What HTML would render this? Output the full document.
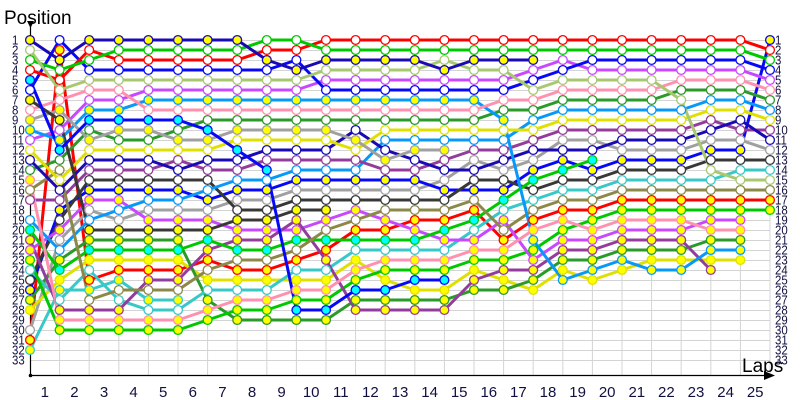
<!DOCTYPE html>
<html><head><meta charset="utf-8"><style>
html,body{margin:0;padding:0;background:#fff;}
svg{display:block;}
text{font-family:"Liberation Sans",sans-serif;}
</style></head><body>
<svg width="800" height="400" viewBox="0 0 800 400" xmlns="http://www.w3.org/2000/svg" xmlns:xlink="http://www.w3.org/1999/xlink">
<rect width="800" height="400" fill="#fff"/>
<defs>
<marker id="m1" markerUnits="userSpaceOnUse" markerWidth="12" markerHeight="12" refX="6" refY="6" viewBox="0 0 12 12"><circle cx="6" cy="6" r="4.4" fill="#ffff00" stroke="#1a0ab4" stroke-width="1.3"/></marker>
<marker id="m2" markerUnits="userSpaceOnUse" markerWidth="12" markerHeight="12" refX="6" refY="6" viewBox="0 0 12 12"><circle cx="6" cy="6" r="4.4" fill="#fff" stroke="#a8c870" stroke-width="1.3"/></marker>
<marker id="m3" markerUnits="userSpaceOnUse" markerWidth="12" markerHeight="12" refX="6" refY="6" viewBox="0 0 12 12"><circle cx="6" cy="6" r="4.4" fill="#fff" stroke="#00c800" stroke-width="1.3"/></marker>
<marker id="m4" markerUnits="userSpaceOnUse" markerWidth="12" markerHeight="12" refX="6" refY="6" viewBox="0 0 12 12"><circle cx="6" cy="6" r="4.4" fill="#fff" stroke="#ff0000" stroke-width="1.3"/></marker>
<marker id="m5" markerUnits="userSpaceOnUse" markerWidth="12" markerHeight="12" refX="6" refY="6" viewBox="0 0 12 12"><circle cx="6" cy="6" r="4.4" fill="#00ffff" stroke="#0808f8" stroke-width="1.3"/></marker>
<marker id="m6" markerUnits="userSpaceOnUse" markerWidth="12" markerHeight="12" refX="6" refY="6" viewBox="0 0 12 12"><circle cx="6" cy="6" r="4.4" fill="#fff" stroke="#0808f8" stroke-width="1.3"/></marker>
<marker id="m7" markerUnits="userSpaceOnUse" markerWidth="12" markerHeight="12" refX="6" refY="6" viewBox="0 0 12 12"><circle cx="6" cy="6" r="4.4" fill="#ffff00" stroke="#383838" stroke-width="1.3"/></marker>
<marker id="m8" markerUnits="userSpaceOnUse" markerWidth="12" markerHeight="12" refX="6" refY="6" viewBox="0 0 12 12"><circle cx="6" cy="6" r="4.4" fill="#fff" stroke="#ff90b0" stroke-width="1.3"/></marker>
<marker id="m9" markerUnits="userSpaceOnUse" markerWidth="12" markerHeight="12" refX="6" refY="6" viewBox="0 0 12 12"><circle cx="6" cy="6" r="4.4" fill="#ffff00" stroke="#a0a0a0" stroke-width="1.3"/></marker>
<marker id="m10" markerUnits="userSpaceOnUse" markerWidth="12" markerHeight="12" refX="6" refY="6" viewBox="0 0 12 12"><circle cx="6" cy="6" r="4.4" fill="#ffff00" stroke="#0898f8" stroke-width="1.3"/></marker>
<marker id="m11" markerUnits="userSpaceOnUse" markerWidth="12" markerHeight="12" refX="6" refY="6" viewBox="0 0 12 12"><circle cx="6" cy="6" r="4.4" fill="#fff" stroke="#c848ff" stroke-width="1.3"/></marker>
<marker id="m12" markerUnits="userSpaceOnUse" markerWidth="12" markerHeight="12" refX="6" refY="6" viewBox="0 0 12 12"><circle cx="6" cy="6" r="4.4" fill="#fff" stroke="#e0e000" stroke-width="1.3"/></marker>
<marker id="m13" markerUnits="userSpaceOnUse" markerWidth="12" markerHeight="12" refX="6" refY="6" viewBox="0 0 12 12"><circle cx="6" cy="6" r="4.4" fill="#fff" stroke="#1a0ab4" stroke-width="1.3"/></marker>
<marker id="m14" markerUnits="userSpaceOnUse" markerWidth="12" markerHeight="12" refX="6" refY="6" viewBox="0 0 12 12"><circle cx="6" cy="6" r="4.4" fill="#fff" stroke="#2a9a2a" stroke-width="1.3"/></marker>
<marker id="m15" markerUnits="userSpaceOnUse" markerWidth="12" markerHeight="12" refX="6" refY="6" viewBox="0 0 12 12"><circle cx="6" cy="6" r="4.4" fill="#ffff00" stroke="#ff90b0" stroke-width="1.3"/></marker>
<marker id="m16" markerUnits="userSpaceOnUse" markerWidth="12" markerHeight="12" refX="6" refY="6" viewBox="0 0 12 12"><circle cx="6" cy="6" r="4.4" fill="#fff" stroke="#8c8848" stroke-width="1.3"/></marker>
<marker id="m17" markerUnits="userSpaceOnUse" markerWidth="12" markerHeight="12" refX="6" refY="6" viewBox="0 0 12 12"><circle cx="6" cy="6" r="4.4" fill="#fff" stroke="#943c9c" stroke-width="1.3"/></marker>
<marker id="m18" markerUnits="userSpaceOnUse" markerWidth="12" markerHeight="12" refX="6" refY="6" viewBox="0 0 12 12"><circle cx="6" cy="6" r="4.4" fill="#fff" stroke="#0898f8" stroke-width="1.3"/></marker>
<marker id="m19" markerUnits="userSpaceOnUse" markerWidth="12" markerHeight="12" refX="6" refY="6" viewBox="0 0 12 12"><circle cx="6" cy="6" r="4.4" fill="#00ffff" stroke="#00c800" stroke-width="1.3"/></marker>
<marker id="m20" markerUnits="userSpaceOnUse" markerWidth="12" markerHeight="12" refX="6" refY="6" viewBox="0 0 12 12"><circle cx="6" cy="6" r="4.4" fill="#ffff00" stroke="#943c9c" stroke-width="1.3"/></marker>
<marker id="m21" markerUnits="userSpaceOnUse" markerWidth="12" markerHeight="12" refX="6" refY="6" viewBox="0 0 12 12"><circle cx="6" cy="6" r="4.4" fill="#ffff00" stroke="#c848ff" stroke-width="1.3"/></marker>
<marker id="m22" markerUnits="userSpaceOnUse" markerWidth="12" markerHeight="12" refX="6" refY="6" viewBox="0 0 12 12"><circle cx="6" cy="6" r="4.4" fill="#ffff00" stroke="#00c800" stroke-width="1.3"/></marker>
<marker id="m23" markerUnits="userSpaceOnUse" markerWidth="12" markerHeight="12" refX="6" refY="6" viewBox="0 0 12 12"><circle cx="6" cy="6" r="4.4" fill="#fff" stroke="#38c8c8" stroke-width="1.3"/></marker>
<marker id="m24" markerUnits="userSpaceOnUse" markerWidth="12" markerHeight="12" refX="6" refY="6" viewBox="0 0 12 12"><circle cx="6" cy="6" r="4.4" fill="#fff" stroke="#383838" stroke-width="1.3"/></marker>
<marker id="m25" markerUnits="userSpaceOnUse" markerWidth="12" markerHeight="12" refX="6" refY="6" viewBox="0 0 12 12"><circle cx="6" cy="6" r="4.4" fill="#ffff00" stroke="#0808f8" stroke-width="1.3"/></marker>
<marker id="m26" markerUnits="userSpaceOnUse" markerWidth="12" markerHeight="12" refX="6" refY="6" viewBox="0 0 12 12"><circle cx="6" cy="6" r="4.4" fill="#ffff00" stroke="#2a9a2a" stroke-width="1.3"/></marker>
<marker id="m27" markerUnits="userSpaceOnUse" markerWidth="12" markerHeight="12" refX="6" refY="6" viewBox="0 0 12 12"><circle cx="6" cy="6" r="4.4" fill="#ffff00" stroke="#e0e000" stroke-width="1.3"/></marker>
<marker id="m28" markerUnits="userSpaceOnUse" markerWidth="12" markerHeight="12" refX="6" refY="6" viewBox="0 0 12 12"><circle cx="6" cy="6" r="4.4" fill="#fff" stroke="#a0a0a0" stroke-width="1.3"/></marker>
<marker id="m29" markerUnits="userSpaceOnUse" markerWidth="12" markerHeight="12" refX="6" refY="6" viewBox="0 0 12 12"><circle cx="6" cy="6" r="4.4" fill="#ffff00" stroke="#ff0000" stroke-width="1.3"/></marker>
<marker id="m30" markerUnits="userSpaceOnUse" markerWidth="12" markerHeight="12" refX="6" refY="6" viewBox="0 0 12 12"><circle cx="6" cy="6" r="4.4" fill="#ffff00" stroke="#38c8c8" stroke-width="1.3"/></marker>

<polyline id="p1" points="30,40 59.6,60 89.2,40 118.8,40 148.4,40 178,40 207.6,40 237.2,40 266.8,60 296.4,70 326,60 355.6,60 385.2,60 414.8,60 444.4,70 474,60 503.6,60 533.2,60"/>
<polyline id="p2" points="30,50 59.6,90 89.2,80 118.8,80 148.4,80 178,80 207.6,80 237.2,80 266.8,80 296.4,80 326,70 355.6,70 385.2,70 414.8,70 444.4,60 474,70 503.6,70 533.2,90 562.8,80 592.4,80 622,80 651.6,80 681.2,100 710.8,170 740.4,180 770,180"/>
<polyline id="p3" points="30,60 59.6,70 89.2,60 118.8,50 148.4,50 178,50 207.6,50 237.2,50 266.8,40 296.4,40 326,50 355.6,50 385.2,50 414.8,50 444.4,50 474,50 503.6,50 533.2,50 562.8,50 592.4,50 622,50 651.6,50 681.2,50 710.8,50 740.4,50 770,60"/>
<polyline id="p4" points="30,70 59.6,80 89.2,50 118.8,60 148.4,60 178,60 207.6,60 237.2,60 266.8,50 296.4,50 326,40 355.6,40 385.2,40 414.8,40 444.4,40 474,40 503.6,40 533.2,40 562.8,40 592.4,40 622,40 651.6,40 681.2,40 710.8,40 740.4,40 770,50"/>
<polyline id="p5" points="30,80 59.6,150 89.2,120 118.8,120 148.4,120 178,120 207.6,130 237.2,150 266.8,170 296.4,310 326,310 355.6,290 385.2,290 414.8,280 444.4,280"/>
<polyline id="p6" points="30,90 59.6,40 89.2,70 118.8,70 148.4,70 178,70 207.6,70 237.2,70 266.8,70 296.4,60 326,90 355.6,90 385.2,90 414.8,90 444.4,90 474,90 503.6,90 533.2,80 562.8,70 592.4,60 622,60 651.6,60 681.2,60 710.8,60 740.4,60 770,70"/>
<polyline id="p7" points="30,100 59.6,120 89.2,230 118.8,230 148.4,230 178,230 207.6,230 237.2,220 266.8,220 296.4,210 326,210"/>
<polyline id="p8" points="30,110 59.6,100 89.2,90 118.8,90 148.4,110 178,110 207.6,110 237.2,110 266.8,110 296.4,110 326,110 355.6,110 385.2,110 414.8,110 444.4,110 474,110 503.6,100 533.2,100 562.8,90 592.4,90 622,90 651.6,90 681.2,80 710.8,80 740.4,80 770,90"/>
<polyline id="p9" points="30,120 59.6,110 89.2,140 118.8,130 148.4,130 178,140 207.6,140 237.2,130 266.8,130 296.4,130 326,130 355.6,140 385.2,160 414.8,150 444.4,150"/>
<polyline id="p10" points="30,130 59.6,140 89.2,110 118.8,110 148.4,100 178,100 207.6,100 237.2,100 266.8,100 296.4,100 326,100 355.6,100 385.2,100 414.8,100 444.4,100 474,100 503.6,120 533.2,240 562.8,280 592.4,270 622,260 651.6,270 681.2,270 710.8,250 740.4,250"/>
<polyline id="p11" points="30,140 59.6,130 89.2,100 118.8,100 148.4,90 178,90 207.6,90 237.2,90 266.8,90 296.4,90 326,80 355.6,80 385.2,80 414.8,80 444.4,80 474,80 503.6,80 533.2,70 562.8,60 592.4,70 622,70 651.6,70 681.2,70 710.8,70 740.4,70 770,80"/>
<polyline id="p12" points="30,150 59.6,180 89.2,150 118.8,150 148.4,150 178,150 207.6,150 237.2,140 266.8,140 296.4,140 326,140 355.6,150 385.2,130 414.8,130 444.4,130 474,130 503.6,130 533.2,130 562.8,120 592.4,120 622,120 651.6,120 681.2,120 710.8,110 740.4,110 770,120"/>
<polyline id="p13" points="30,160 59.6,190 89.2,160 118.8,160 148.4,160 178,170 207.6,160 237.2,160 266.8,150 296.4,150 326,150 355.6,130 385.2,150 414.8,160 444.4,170 474,170 503.6,160 533.2,150 562.8,150 592.4,150 622,140 651.6,140 681.2,140 710.8,130 740.4,120 770,140"/>
<polyline id="p14" points="30,170 59.6,160 89.2,130 118.8,140 148.4,140 178,130 207.6,120 237.2,120 266.8,120 296.4,120 326,120 355.6,120 385.2,120 414.8,120 444.4,120 474,120 503.6,110 533.2,110 562.8,100 592.4,100 622,100 651.6,100 681.2,90 710.8,90 740.4,90 770,100"/>
<polyline id="p15" points="30,180 59.6,320 89.2,320 118.8,320 148.4,320 178,320 207.6,310 237.2,300 266.8,300 296.4,290 326,290 355.6,270 385.2,260 414.8,260 444.4,260 474,250 503.6,250 533.2,230 562.8,220 592.4,230 622,220 651.6,220 681.2,220 710.8,230 740.4,230"/>
<polyline id="p16" points="30,190 59.6,170 89.2,300 118.8,290 148.4,290 178,290 207.6,270 237.2,260 266.8,260 296.4,250 326,230 355.6,220 385.2,210 414.8,210 444.4,210 474,200 503.6,230 533.2,210 562.8,200 592.4,200 622,190 651.6,190 681.2,190 710.8,190 740.4,190 770,190"/>
<polyline id="p17" points="30,200 59.6,200 89.2,170 118.8,170 148.4,170 178,160 207.6,170 237.2,170 266.8,160 296.4,160 326,160 355.6,160 385.2,170 414.8,170 444.4,160 474,150 503.6,150 533.2,140 562.8,130 592.4,130 622,130 651.6,130 681.2,130 710.8,120 740.4,130 770,130"/>
<polyline id="p18" points="30,220 59.6,250 89.2,220 118.8,210 148.4,200 178,200 207.6,190 237.2,180 266.8,180 296.4,170 326,170 355.6,170 385.2,140 414.8,140 444.4,140 474,140 503.6,140 533.2,120 562.8,110 592.4,110 622,110 651.6,110 681.2,110 710.8,100 740.4,100 770,110"/>
<polyline id="p19" points="30,230 59.6,270 89.2,250 118.8,250 148.4,250 178,250 207.6,240 237.2,250 266.8,250 296.4,240 326,240 355.6,240 385.2,240 414.8,240 444.4,230 474,220 503.6,200 533.2,180 562.8,170 592.4,160"/>
<polyline id="p20" points="30,240 59.6,310 89.2,310 118.8,310 148.4,280 178,280 207.6,250 237.2,240 266.8,240 296.4,220 326,260 355.6,310 385.2,310 414.8,310 444.4,310 474,280 503.6,270 533.2,270 562.8,250 592.4,250 622,240 651.6,240 681.2,240 710.8,270"/>
<polyline id="p21" points="30,250 59.6,230 89.2,200 118.8,200 148.4,220 178,220 207.6,220 237.2,230 266.8,230 296.4,230 326,220 355.6,210 385.2,220 414.8,230 444.4,240 474,240 503.6,220 533.2,260 562.8,240 592.4,240 622,230 651.6,230 681.2,230 710.8,220 740.4,220"/>
<polyline id="p22" points="30,260 59.6,330 89.2,330 118.8,330 148.4,330 178,330 207.6,320 237.2,310 266.8,310 296.4,300 326,300 355.6,280 385.2,270 414.8,270 444.4,270 474,260 503.6,260 533.2,250 562.8,230 592.4,220 622,210 651.6,210 681.2,210 710.8,210 740.4,210 770,210"/>
<polyline id="p23" points="30,270 59.6,300 89.2,270 118.8,300 148.4,310 178,310 207.6,290 237.2,290 266.8,290 296.4,270 326,270 355.6,250 385.2,250 414.8,250 444.4,250 474,230 503.6,210 533.2,200 562.8,190 592.4,190 622,180 651.6,180 681.2,180 710.8,180 740.4,170 770,170"/>
<polyline id="p24" points="30,280 59.6,220 89.2,180 118.8,180 148.4,180 178,180 207.6,180 237.2,210 266.8,210 296.4,200 326,200 355.6,200 385.2,200 414.8,200 444.4,200 474,180 503.6,180 533.2,190 562.8,180 592.4,180 622,170 651.6,170 681.2,170 710.8,160 740.4,160 770,160"/>
<polyline id="p25" points="30,290 59.6,210 89.2,190 118.8,190 148.4,190 178,190 207.6,200 237.2,190 266.8,190 296.4,180 326,180 355.6,180 385.2,180 414.8,180 444.4,190 474,190 503.6,190 533.2,170 562.8,160 592.4,170 622,160 651.6,160 681.2,160 710.8,150 740.4,150 770,40"/>
<polyline id="p26" points="30,300 59.6,260 89.2,240 118.8,240 148.4,240 178,240 207.6,300 237.2,320 266.8,320 296.4,320 326,320 355.6,300 385.2,300 414.8,300 444.4,300 474,290 503.6,290 533.2,280 562.8,260 592.4,260 622,250 651.6,250 681.2,250 710.8,240 740.4,240"/>
<polyline id="p27" points="30,310 59.6,280 89.2,260 118.8,260 148.4,260 178,260 207.6,280 237.2,280 266.8,280 296.4,280 326,280 355.6,260 385.2,280 414.8,290 444.4,290 474,270 503.6,280 533.2,290 562.8,270 592.4,280 622,270 651.6,260 681.2,260 710.8,260 740.4,260"/>
<polyline id="p28" points="30,330 59.6,240 89.2,210 118.8,220 148.4,210 178,210 207.6,210 237.2,200 266.8,200 296.4,190 326,190 355.6,190 385.2,190 414.8,190 444.4,180 474,160 503.6,170 533.2,160 562.8,140 592.4,140 622,150 651.6,150 681.2,150 710.8,140 740.4,140 770,150"/>
<polyline id="p29" points="30,340 59.6,50 89.2,280 118.8,270 148.4,270 178,270 207.6,260 237.2,270 266.8,270 296.4,260 326,250 355.6,230 385.2,230 414.8,220 444.4,220 474,210 503.6,240 533.2,220 562.8,210 592.4,210 622,200 651.6,200 681.2,200 710.8,200 740.4,200 770,200"/>
<polyline id="p30" points="30,350 59.6,290 89.2,290 118.8,280 148.4,300 178,300"/>
</defs>

<!-- grid -->
<g stroke="#d4d4d4" stroke-width="1" fill="none">
<path d="M30 40.5H770M30 50.5H770M30 60.5H770M30 70.5H770M30 80.5H770M30 90.5H770M30 100.5H770M30 110.5H770M30 120.5H770M30 130.5H770M30 140.5H770M30 150.5H770M30 160.5H770M30 170.5H770M30 180.5H770M30 190.5H770M30 200.5H770M30 210.5H770M30 220.5H770M30 230.5H770M30 240.5H770M30 250.5H770M30 260.5H770M30 270.5H770M30 280.5H770M30 290.5H770M30 300.5H770M30 310.5H770M30 320.5H770M30 330.5H770M30 340.5H770M30 350.5H770M30 360.5H770"/>
<path d="M59.6 40V375M89.2 40V375M118.8 40V375M148.4 40V375M178 40V375M207.6 40V375M237.2 40V375M266.8 40V375M296.4 40V375M326 40V375M355.6 40V375M385.2 40V375M414.8 40V375M444.4 40V375M474 40V375M503.6 40V375M533.2 40V375M562.8 40V375M592.4 40V375M622 40V375M651.6 40V375M681.2 40V375M710.8 40V375M740.4 40V375M770 40V375"/>
</g>

<!-- axes -->
<g stroke="#000" stroke-width="1.2" fill="none">
<path d="M30.5 22V375.5H770"/>
</g>
<polygon points="27,21 34,21 30.5,28" fill="#000"/>
<polygon points="764,371 775,375.5 764,380" fill="#000"/>
<circle cx="30.5" cy="375.5" r="1.8" fill="#000"/>

<!-- series lines -->
<g fill="none" stroke-width="3" stroke-linejoin="round" stroke-linecap="round">
<use href="#p30" xlink:href="#p30" stroke="#38c8c8"/>
<use href="#p29" xlink:href="#p29" stroke="#ff0000"/>
<use href="#p28" xlink:href="#p28" stroke="#a0a0a0"/>
<use href="#p27" xlink:href="#p27" stroke="#e0e000"/>
<use href="#p26" xlink:href="#p26" stroke="#2a9a2a"/>
<use href="#p25" xlink:href="#p25" stroke="#0808f8"/>
<use href="#p24" xlink:href="#p24" stroke="#383838"/>
<use href="#p23" xlink:href="#p23" stroke="#38c8c8"/>
<use href="#p22" xlink:href="#p22" stroke="#00c800"/>
<use href="#p21" xlink:href="#p21" stroke="#c848ff"/>
<use href="#p20" xlink:href="#p20" stroke="#943c9c"/>
<use href="#p19" xlink:href="#p19" stroke="#00c800"/>
<use href="#p18" xlink:href="#p18" stroke="#0898f8"/>
<use href="#p17" xlink:href="#p17" stroke="#943c9c"/>
<use href="#p16" xlink:href="#p16" stroke="#8c8848"/>
<use href="#p15" xlink:href="#p15" stroke="#ff90b0"/>
<use href="#p14" xlink:href="#p14" stroke="#2a9a2a"/>
<use href="#p13" xlink:href="#p13" stroke="#1a0ab4"/>
<use href="#p12" xlink:href="#p12" stroke="#e0e000"/>
<use href="#p11" xlink:href="#p11" stroke="#c848ff"/>
<use href="#p10" xlink:href="#p10" stroke="#0898f8"/>
<use href="#p9" xlink:href="#p9" stroke="#a0a0a0"/>
<use href="#p8" xlink:href="#p8" stroke="#ff90b0"/>
<use href="#p7" xlink:href="#p7" stroke="#383838"/>
<use href="#p6" xlink:href="#p6" stroke="#0808f8"/>
<use href="#p5" xlink:href="#p5" stroke="#0808f8"/>
<use href="#p4" xlink:href="#p4" stroke="#ff0000"/>
<use href="#p3" xlink:href="#p3" stroke="#00c800"/>
<use href="#p2" xlink:href="#p2" stroke="#a8c870"/>
<use href="#p1" xlink:href="#p1" stroke="#1a0ab4"/>
</g>

<!-- markers -->
<g fill="none" stroke="none">
<use href="#p30" xlink:href="#p30" marker-start="url(#m30)" marker-mid="url(#m30)" marker-end="url(#m30)"/>
<use href="#p29" xlink:href="#p29" marker-start="url(#m29)" marker-mid="url(#m29)" marker-end="url(#m29)"/>
<use href="#p28" xlink:href="#p28" marker-start="url(#m28)" marker-mid="url(#m28)" marker-end="url(#m28)"/>
<use href="#p27" xlink:href="#p27" marker-start="url(#m27)" marker-mid="url(#m27)" marker-end="url(#m27)"/>
<use href="#p26" xlink:href="#p26" marker-start="url(#m26)" marker-mid="url(#m26)" marker-end="url(#m26)"/>
<use href="#p25" xlink:href="#p25" marker-start="url(#m25)" marker-mid="url(#m25)" marker-end="url(#m25)"/>
<use href="#p24" xlink:href="#p24" marker-start="url(#m24)" marker-mid="url(#m24)" marker-end="url(#m24)"/>
<use href="#p23" xlink:href="#p23" marker-start="url(#m23)" marker-mid="url(#m23)" marker-end="url(#m23)"/>
<use href="#p22" xlink:href="#p22" marker-start="url(#m22)" marker-mid="url(#m22)" marker-end="url(#m22)"/>
<use href="#p21" xlink:href="#p21" marker-start="url(#m21)" marker-mid="url(#m21)" marker-end="url(#m21)"/>
<use href="#p20" xlink:href="#p20" marker-start="url(#m20)" marker-mid="url(#m20)" marker-end="url(#m20)"/>
<use href="#p19" xlink:href="#p19" marker-start="url(#m19)" marker-mid="url(#m19)" marker-end="url(#m19)"/>
<use href="#p18" xlink:href="#p18" marker-start="url(#m18)" marker-mid="url(#m18)" marker-end="url(#m18)"/>
<use href="#p17" xlink:href="#p17" marker-start="url(#m17)" marker-mid="url(#m17)" marker-end="url(#m17)"/>
<use href="#p16" xlink:href="#p16" marker-start="url(#m16)" marker-mid="url(#m16)" marker-end="url(#m16)"/>
<use href="#p15" xlink:href="#p15" marker-start="url(#m15)" marker-mid="url(#m15)" marker-end="url(#m15)"/>
<use href="#p14" xlink:href="#p14" marker-start="url(#m14)" marker-mid="url(#m14)" marker-end="url(#m14)"/>
<use href="#p13" xlink:href="#p13" marker-start="url(#m13)" marker-mid="url(#m13)" marker-end="url(#m13)"/>
<use href="#p12" xlink:href="#p12" marker-start="url(#m12)" marker-mid="url(#m12)" marker-end="url(#m12)"/>
<use href="#p11" xlink:href="#p11" marker-start="url(#m11)" marker-mid="url(#m11)" marker-end="url(#m11)"/>
<use href="#p10" xlink:href="#p10" marker-start="url(#m10)" marker-mid="url(#m10)" marker-end="url(#m10)"/>
<use href="#p9" xlink:href="#p9" marker-start="url(#m9)" marker-mid="url(#m9)" marker-end="url(#m9)"/>
<use href="#p8" xlink:href="#p8" marker-start="url(#m8)" marker-mid="url(#m8)" marker-end="url(#m8)"/>
<use href="#p7" xlink:href="#p7" marker-start="url(#m7)" marker-mid="url(#m7)" marker-end="url(#m7)"/>
<use href="#p6" xlink:href="#p6" marker-start="url(#m6)" marker-mid="url(#m6)" marker-end="url(#m6)"/>
<use href="#p5" xlink:href="#p5" marker-start="url(#m5)" marker-mid="url(#m5)" marker-end="url(#m5)"/>
<use href="#p4" xlink:href="#p4" marker-start="url(#m4)" marker-mid="url(#m4)" marker-end="url(#m4)"/>
<use href="#p3" xlink:href="#p3" marker-start="url(#m3)" marker-mid="url(#m3)" marker-end="url(#m3)"/>
<use href="#p2" xlink:href="#p2" marker-start="url(#m2)" marker-mid="url(#m2)" marker-end="url(#m2)"/>
<use href="#p1" xlink:href="#p1" marker-start="url(#m1)" marker-mid="url(#m1)" marker-end="url(#m1)"/>
</g>

<!-- titles -->
<text x="4" y="24" font-size="19" fill="#000">Position</text>
<text x="742" y="372" font-size="19" fill="#000">Laps</text>

<!-- left y labels -->
<g transform="matrix(0.88 0 0 1 12 0)" font-size="13" fill="#101040">
<text x="0" y="44.5">1</text><text x="0" y="54.5">2</text><text x="0" y="64.5">3</text><text x="0" y="74.5">4</text><text x="0" y="84.5">5</text><text x="0" y="94.5">6</text><text x="0" y="104.5">7</text><text x="0" y="114.5">8</text><text x="0" y="124.5">9</text><text x="0" y="134.5">10</text><text x="0" y="144.5">11</text><text x="0" y="154.5">12</text><text x="0" y="164.5">13</text><text x="0" y="174.5">14</text><text x="0" y="184.5">15</text><text x="0" y="194.5">16</text><text x="0" y="204.5">17</text><text x="0" y="214.5">18</text><text x="0" y="224.5">19</text><text x="0" y="234.5">20</text><text x="0" y="244.5">21</text><text x="0" y="254.5">22</text><text x="0" y="264.5">23</text><text x="0" y="274.5">24</text><text x="0" y="284.5">25</text><text x="0" y="294.5">26</text><text x="0" y="304.5">27</text><text x="0" y="314.5">28</text><text x="0" y="324.5">29</text><text x="0" y="334.5">30</text><text x="0" y="344.5">31</text><text x="0" y="354.5">32</text><text x="0" y="364.5">33</text>
</g>

<!-- right y labels -->
<g transform="matrix(0.88 0 0 1 775 0)" font-size="13" fill="#101040">
<text x="0" y="44.5">1</text><text x="0" y="54.5">2</text><text x="0" y="64.5">3</text><text x="0" y="74.5">4</text><text x="0" y="84.5">5</text><text x="0" y="94.5">6</text><text x="0" y="104.5">7</text><text x="0" y="114.5">8</text><text x="0" y="124.5">9</text><text x="0" y="134.5">10</text><text x="0" y="144.5">11</text><text x="0" y="154.5">12</text><text x="0" y="164.5">13</text><text x="0" y="174.5">14</text><text x="0" y="184.5">15</text><text x="0" y="194.5">16</text><text x="0" y="204.5">17</text><text x="0" y="214.5">18</text><text x="0" y="224.5">19</text><text x="0" y="234.5">20</text><text x="0" y="244.5">21</text><text x="0" y="254.5">22</text><text x="0" y="264.5">23</text><text x="0" y="274.5">24</text><text x="0" y="284.5">25</text><text x="0" y="294.5">26</text><text x="0" y="304.5">27</text><text x="0" y="314.5">28</text><text x="0" y="324.5">29</text><text x="0" y="334.5">30</text><text x="0" y="344.5">31</text><text x="0" y="354.5">32</text><text x="0" y="364.5">33</text>
</g>

<!-- x labels -->
<g font-size="15" fill="#101040" text-anchor="middle">
<text x="44.8" y="397">1</text><text x="74.4" y="397">2</text><text x="104" y="397">3</text><text x="133.6" y="397">4</text><text x="163.2" y="397">5</text><text x="192.8" y="397">6</text><text x="222.4" y="397">7</text><text x="252" y="397">8</text><text x="281.6" y="397">9</text><text x="311.2" y="397">10</text><text x="340.8" y="397">11</text><text x="370.4" y="397">12</text><text x="400" y="397">13</text><text x="429.6" y="397">14</text><text x="459.2" y="397">15</text><text x="488.8" y="397">16</text><text x="518.4" y="397">17</text><text x="548" y="397">18</text><text x="577.6" y="397">19</text><text x="607.2" y="397">20</text><text x="636.8" y="397">21</text><text x="666.4" y="397">22</text><text x="696" y="397">23</text><text x="725.6" y="397">24</text><text x="755.2" y="397">25</text>
</g>
</svg>
</body></html>
